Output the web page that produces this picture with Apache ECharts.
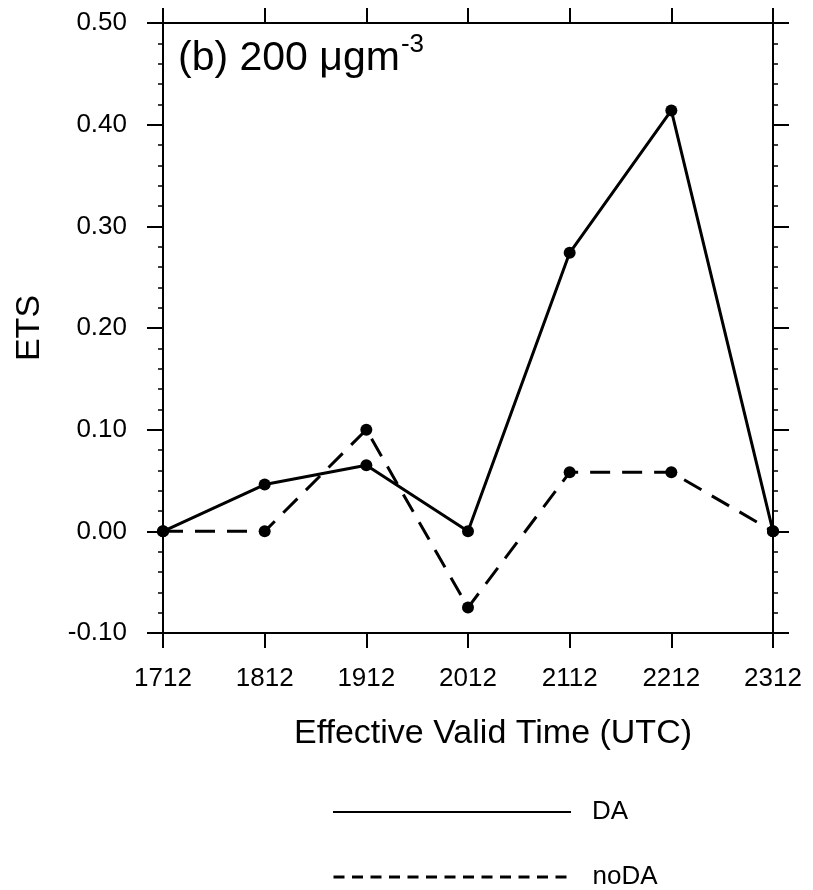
<!DOCTYPE html>
<html>
<head>
<meta charset="utf-8">
<script src="https://cdn.jsdelivr.net/npm/echarts@6/dist/echarts.min.js"></script>
<style>
html,body{margin:0;padding:0;background:#fff;}
#chart{width:813px;height:890px;}
</style>
</head>
<body>
<div id="chart"></div>
<script>
const categories = ['1712','1812','1912','2012','2112','2212','2312'];
const daValues   = [0, 0.046, 0.065, 0, 0.274, 0.414, 0];
const nodaValues = [0, 0, 0.100, -0.075, 0.058, 0.058, 0];
const seriesNames = ['DA', 'noDA'];
const yMin = -0.1, yMax = 0.5, yStep = 0.1;

const FONT = '"Liberation Sans", Arial, Helvetica, sans-serif';
const chart = echarts.init(document.getElementById('chart'), null, {renderer:'canvas'});

const lineAxis = {show:true, onZero:false, lineStyle:{color:'#000', width:2}};
const tick = {show:true, inside:false, length:15, lineStyle:{color:'#000', width:2}};

chart.setOption({
  animation:false,
  backgroundColor:'#fff',
  title:{
    text:'{a|(b) 200 μgm}{s|-3}',
    left:173, top:27,
    textStyle:{
      fontWeight:'normal',
      rich:{
        a:{fontFamily:FONT, fontSize:41, fontWeight:'normal', color:'#000', lineHeight:47, verticalAlign:'bottom'},
        s:{fontFamily:FONT, fontSize:26, fontWeight:'normal', color:'#000', lineHeight:26, verticalAlign:'top', padding:[0,0,0,1]}
      }
    }
  },
  grid:{left:163, right:40, top:23, bottom:257, containLabel:false},
  legend:[
    {
      data:[{name:seriesNames[0]}],
      left:332, top:799, orient:'vertical', padding:0,
      itemWidth:238, itemHeight:14,
      itemStyle:{opacity:0},
      textStyle:{fontFamily:FONT, fontSize:26, color:'#000', padding:[0,0,0,16]}
    },
    {
      data:[{name:seriesNames[1], lineStyle:{type:[11,7.5], width:3}}],
      left:332, top:864, orient:'vertical', padding:0,
      itemWidth:238, itemHeight:14,
      itemStyle:{opacity:0},
      textStyle:{fontFamily:FONT, fontSize:26, color:'#000', padding:[0,0,0,16]}
    }
  ],
  xAxis:[
    {
      type:'category', data:categories, boundaryGap:false, position:'bottom',
      axisLine:lineAxis, axisTick:tick,
      axisLabel:{fontFamily:FONT, fontSize:26, color:'#000', margin:33},
      name:'Effective Valid Time (UTC)', nameLocation:'middle', nameGap:84,
      nameTextStyle:{fontFamily:FONT, fontSize:34, color:'#000', padding:[0,0,0,50]},
      splitLine:{show:false}
    },
    {
      type:'category', data:categories, boundaryGap:false, position:'top',
      axisLine:lineAxis, axisTick:tick, axisLabel:{show:false}, splitLine:{show:false}
    }
  ],
  yAxis:[
    {
      type:'value', min:yMin, max:yMax, interval:yStep, position:'left',
      axisLine:lineAxis, axisTick:{show:true, inside:false, length:16, lineStyle:{color:'#000', width:2}},
      minorTick:{show:true, splitNumber:5, length:5, lineStyle:{color:'#000', width:1.5}},
      axisLabel:{fontFamily:FONT, fontSize:26, color:'#000', margin:36, formatter:v=>v.toFixed(2)},
      splitLine:{show:false},
      name:'ETS', nameLocation:'middle', nameGap:116, nameRotate:90,
      nameTextStyle:{fontFamily:FONT, fontSize:34, color:'#000'}
    },
    {
      type:'value', min:yMin, max:yMax, interval:yStep, position:'right',
      axisLine:lineAxis, axisTick:{show:true, inside:false, length:16, lineStyle:{color:'#000', width:2}},
      minorTick:{show:true, splitNumber:5, length:5, lineStyle:{color:'#000', width:1.5}},
      axisLabel:{show:false}, splitLine:{show:false}
    }
  ],
  series:[
    {
      name:seriesNames[0], type:'line', data:daValues, xAxisIndex:0, yAxisIndex:0,
      symbol:'circle', symbolSize:12, color:'#000',
      lineStyle:{color:'#000', width:3, type:'solid'},
      itemStyle:{color:'#000'}, z:3
    },
    {
      name:seriesNames[1], type:'line', data:nodaValues, xAxisIndex:0, yAxisIndex:0,
      symbol:'circle', symbolSize:12, color:'#000',
      lineStyle:{color:'#000', width:3, type:[20,12]},
      itemStyle:{color:'#000'}, z:2
    }
  ]
});
</script>
</body>
</html>
